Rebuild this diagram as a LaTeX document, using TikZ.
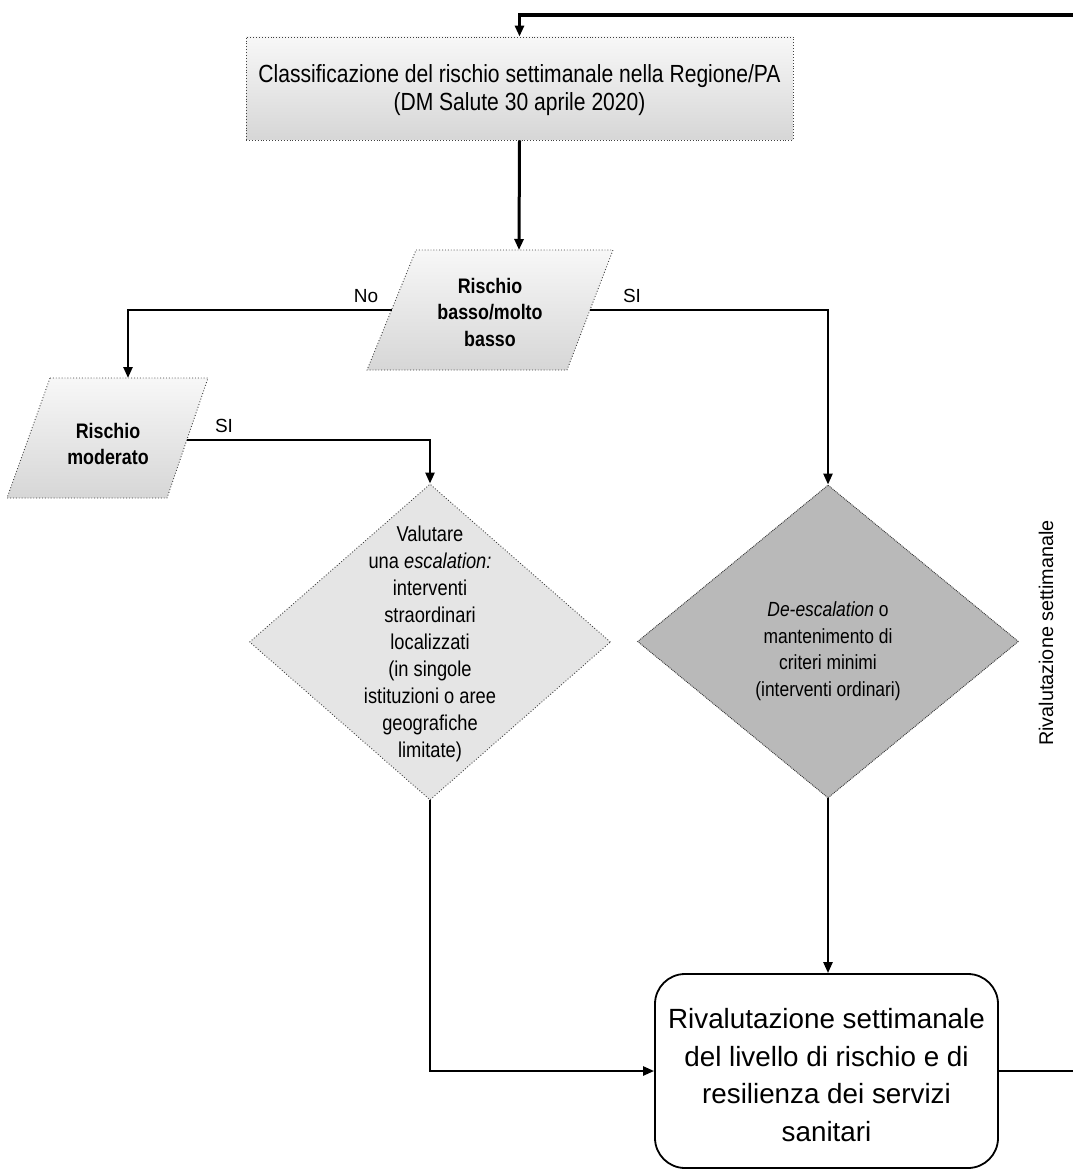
\documentclass[tikz,border=0pt]{standalone}
\usepackage{fontspec}
\setmainfont{Liberation Sans}
\newfontfamily\cond{Liberation Sans}[FakeStretch=0.85]
\usetikzlibrary{arrows.meta,shapes.geometric,calc}
\begin{document}
\begin{tikzpicture}[x=1pt,y=-1pt,
  conn/.style={line width=2.4pt,-{Triangle[length=11pt,width=9pt]}},
  connplain/.style={line width=2.4pt},
  dotborder/.style={draw=black!75,line width=0.9pt,dotted},
  lightfill/.style={top color=gray!6,bottom color=gray!32},
  txtsmall/.style={font=\cond\fontsize{21.5}{27}\selectfont,align=center},
  txtbold/.style={font=\cond\bfseries\fontsize{21}{26.5}\selectfont,align=center},
  lbl/.style={font=\fontsize{19}{22}\selectfont},
]
\useasboundingbox[fill=white] (0,0) rectangle (1072,1169);

% top box
\node[rectangle,dotborder,lightfill,minimum width=547pt,minimum height=103pt,inner sep=0pt] (top) at (519.5,88.5) {};
\node[font=\cond\fontsize{24.8}{28}\selectfont,align=center] (toptxt) at (519.5,90)
  {Classificazione del rischio settimanale nella Regione/PA\\(DM Salute 30 aprile 2020)};

% parallelogram 1
\path[dotborder,lightfill] (416,250) -- (613,250) -- (567,370) -- (367,370) -- cycle;
\coordinate (p1T) at (519,250);
\coordinate (p1L) at (391.5,310);
\coordinate (p1R) at (590,310);
\node[txtbold] (p1txt) at (490,312) {Rischio\\basso/molto\\basso};

% parallelogram 2
\path[dotborder,lightfill] (50,378) -- (208,378) -- (167,498) -- (7,498) -- cycle;
\coordinate (p2T) at (128,378);
\coordinate (p2R) at (187,440);
\node[txtbold] (p2txt) at (108,444) {Rischio\\moderato};

% diamond 1
\node[diamond,dotborder,fill=gray!20,minimum width=361pt,minimum height=316pt,inner sep=0pt] (d1) at (430,642) {};
\node[txtsmall] (d1txt) at (430,644) {Valutare\\una \textit{escalation:}\\interventi\\straordinari\\localizzati\\(in singole\\istituzioni o aree\\geografiche\\limitate)};

% diamond 2
\node[diamond,draw=black!80,line width=0.9pt,densely dotted,fill=gray!55,minimum width=381pt,minimum height=313pt,inner sep=0pt] (d2) at (828,641.5) {};
\node[font=\cond\fontsize{20.5}{26.5}\selectfont,align=center] (d2txt) at (828,651) {\textit{De-escalation} o\\mantenimento di\\criteri minimi\\(interventi ordinari)};

% bottom box
\node[rectangle,draw=black,line width=1.8pt,rounded corners=30pt,minimum width=343pt,minimum height=194pt,inner sep=0pt] (bot) at (826.5,1071) {};
\node[font=\fontsize{27.8}{37.8}\selectfont,align=center] (bottxt) at (826.5,1075)
  {Rivalutazione settimanale\\del livello di rischio e di\\resilienza dei servizi\\sanitari};

% labels
\node[lbl] (no) at (366,296) {No};
\node[lbl] (si1) at (632,296) {SI};
\node[lbl] (si2) at (224,426) {SI};
\node[font=\fontsize{19.8}{22}\selectfont,rotate=90] (riv) at (1046,633) {Rivalutazione settimanale};

% connectors
\draw[conn,line width=3pt] (top.south) -- (p1T);
\draw[conn] (p1L) -- (p1L -| p2T) -- (p2T);
\draw[conn] (p1R) -- (p1R -| d2.north) -- (d2.north);
\draw[conn] (p2R) -- (p2R -| d1.north) -- (d1.north);
\draw[conn] (d1.south) -- (d1.south |- bot.west) -- (bot.west);
\draw[conn] (d2.south) -- (bot.north -| d2.south);
\coordinate (loopTR) at (1080,15);
\draw[connplain] (bot.east) -- (bot.east -| loopTR) -- (loopTR);
\draw[conn,line width=3.6pt] (loopTR) -- (loopTR -| top.north) -- (top.north);
\end{tikzpicture}
\end{document}
